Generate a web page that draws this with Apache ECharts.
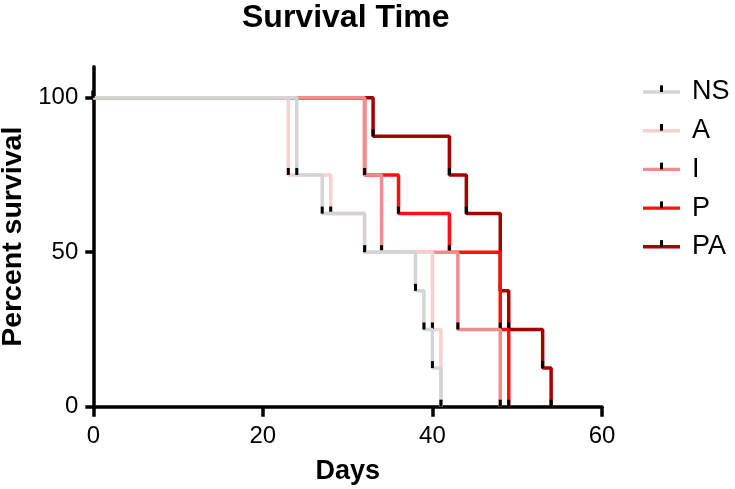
<!DOCTYPE html>
<html><head><meta charset="utf-8">
<script src="https://cdn.jsdelivr.net/npm/echarts@6/dist/echarts.min.js"></script>
<style>html,body{margin:0;padding:0;background:#fff}#c{width:735px;height:489px}</style>
</head><body><div id="c"></div>
<script>
// ---- data ----
const groups = ['NS', 'A', 'I', 'P', 'PA'];
const nsDays = [0, 24, 27, 32, 38, 39, 40, 41];
const nsSurv = [100, 75, 62.5, 50, 37.5, 25, 12.5, 0];
const aDays = [0, 23, 28, 32, 40, 41];
const aSurv = [100, 75, 62.5, 50, 25, 0];
const iDays = [0, 32, 34, 43, 48];
const iSurv = [100, 75, 50, 25, 0];
const pDays = [0, 32, 36, 42, 48, 49];
const pSurv = [100, 75, 62.5, 50, 25, 0];
const paDays = [0, 33, 42, 44, 48, 49, 53, 54];
const paSurv = [100, 87.5, 75, 62.5, 37.5, 25, 12.5, 0];
const xTicks = [0, 20, 40, 60];
const yTicks = [0, 50, 100];

// ---- style ----
const colors = ['#d4d4d4', '#f7d0d0', '#f28c8c', '#ff1010', '#a50000'];
const FONT = '"Liberation Sans", Arial, sans-serif';
const daysList = [nsDays, aDays, iDays, pDays, paDays];
const survList = [nsSurv, aSurv, iSurv, pSurv, paSurv];

const series = groups.map((g, k) => ({
  name: g,
  type: 'line',
  step: 'end',
  z: 10 - k,
  data: daysList[k].map((d, j) => [d, survList[k][j]]),
  symbol: 'rect',
  symbolSize: [3, 7],
  symbolOffset: [0, -3.5],
  showSymbol: true,
  itemStyle: { color: '#000' },
  lineStyle: { color: colors[k], width: 3.5 },
  emphasis: { disabled: true },
  silent: true
}));

const lineIcon = 'path://M0 0M44 30M0 13.3L37 13.3L37 16.7L0 16.7Z';
const tickIcon = 'path://M0 0M44 30M17 8.3L20 8.3L20 15L17 15Z';

const legendBase = {
  orient: 'vertical', left: 638, top: 72,
  itemWidth: 44, itemHeight: 30, itemGap: 8.7,
  selectedMode: false,
  textStyle: { fontSize: 27, color: '#000', fontFamily: FONT }
};

const chart = echarts.init(document.getElementById('c'), null, { renderer: 'canvas' });
chart.setOption({
  animation: false,
  backgroundColor: '#fff',
  title: {
    text: 'Survival Time', left: 242, top: 2, padding: 0,
    textStyle: { fontSize: 32, fontWeight: 'bold', color: '#000', fontFamily: FONT }
  },
  legend: [
    Object.assign({}, legendBase, {
      data: groups.map((g, k) => ({ name: g, icon: lineIcon, itemStyle: { color: colors[k], borderWidth: 0 } }))
    }),
    Object.assign({}, legendBase, {
      formatter: () => '',
      data: groups.map(g => ({ name: g, icon: tickIcon, itemStyle: { color: '#000', borderWidth: 0 } }))
    })
  ],
  grid: { left: 93.3, right: 133, top: 66.8, bottom: 82.3, containLabel: false, outerBoundsMode: 'none' },
  xAxis: {
    type: 'value', min: 0, max: 60, interval: 20,
    name: 'Days', nameLocation: 'middle', nameGap: 51,
    nameTextStyle: { fontSize: 27, fontWeight: 'bold', color: '#000', fontFamily: FONT },
    axisLine: { show: true, lineStyle: { color: '#000', width: 3.5 } },
    axisTick: { show: true, length: 10, lineStyle: { color: '#000', width: 3.5 }, customValues: xTicks },
    axisLabel: { fontSize: 24, color: '#000', margin: 18, fontFamily: FONT, customValues: xTicks },
    splitLine: { show: false }
  },
  yAxis: {
    type: 'value', min: 0, max: 110, interval: 50,
    name: 'Percent survival', nameLocation: 'middle', nameGap: 64, nameRotate: 90,
    nameTextStyle: { fontSize: 28.5, fontWeight: 'bold', color: '#000', fontFamily: FONT },
    axisLine: { show: true, lineStyle: { color: '#000', width: 3.5 } },
    axisTick: { show: true, length: 8, lineStyle: { color: '#000', width: 3.5 }, customValues: yTicks },
    axisLabel: { fontSize: 24, color: '#000', margin: 15, fontFamily: FONT, customValues: yTicks },
    splitLine: { show: false }
  },
  series: series
});
</script></body></html>
